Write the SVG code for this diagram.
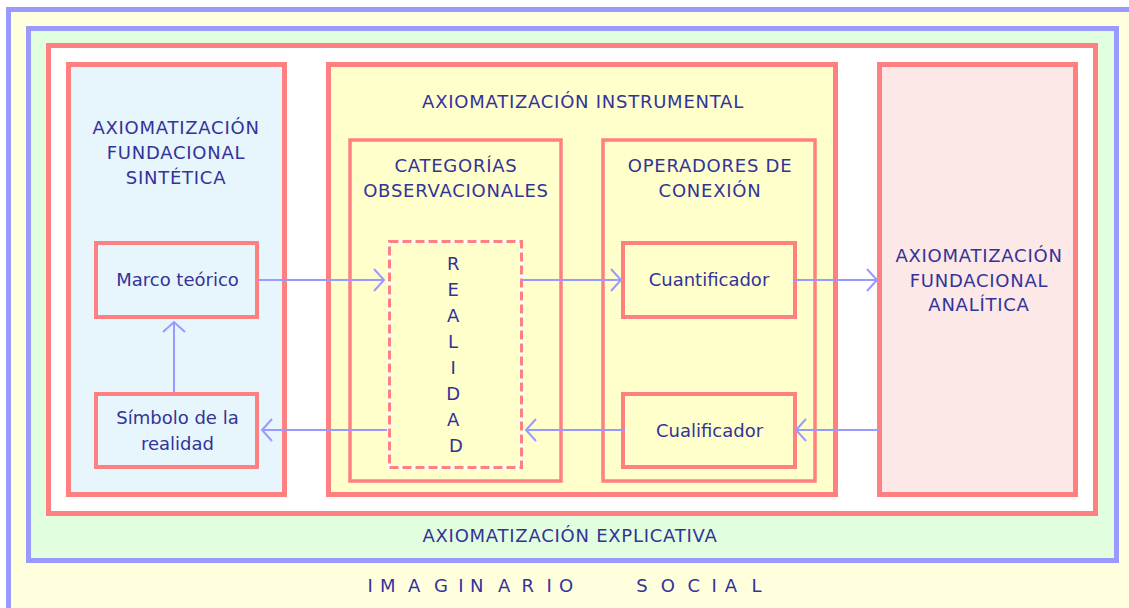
<svg xmlns="http://www.w3.org/2000/svg" width="1129" height="608" viewBox="0 0 1129 608">
<defs>
<style>
.t{font-family:"DejaVu Sans","Liberation Sans",sans-serif;font-size:18px;fill:#333399;text-anchor:middle}
.u{letter-spacing:0.75px}
.l{letter-spacing:0px}
.panel{stroke:#FF8080;stroke-width:5}
.box{stroke:#FF8080;stroke-width:3.5}
.node{stroke:#FF8080;stroke-width:4}
.conn{stroke:#9999FF;stroke-width:2;fill:none;marker-end:url(#chev)}
</style>
<marker id="chev" viewBox="-1 -1 12 24" refX="10" refY="11" markerWidth="12" markerHeight="24" markerUnits="userSpaceOnUse" orient="auto" overflow="visible">
<path d="M0,0 L10,11 L0,22" fill="none" stroke="#9999FF" stroke-width="2"/>
</marker>
</defs>
<rect x="0" y="0" width="1129" height="608" fill="#FFFFFF"/>
<g id="imaginario-social">
<rect x="8.5" y="9.5" width="1200" height="700" fill="#FFFFDD" stroke="#9999FF" stroke-width="5"/>
<text class="t" style="text-anchor:start" y="592" x="367.6 380 408 434.1 458.3 470 498 521.6 546.6 559.1 636.2 660.8 687.4 711.6 724.7 751.6">IMAGINARIOSOCIAL</text>
</g>
<g id="axiomatizacion-explicativa">
<rect x="28.5" y="28.5" width="1088" height="532" fill="#E1FFDF" stroke="#9999FF" stroke-width="5"/>
<rect x="48.5" y="45.5" width="1047" height="468" fill="#FFFFFF" stroke="#FF8080" stroke-width="5"/>
<text class="t u" x="570" y="542">AXIOMATIZACIÓN EXPLICATIVA</text>
</g>
<g id="fundacional-sintetica">
<rect class="panel" x="68.5" y="64.5" width="216" height="430" fill="#E7F5FD"/>
<text class="t u" x="176" y="134">AXIOMATIZACIÓN</text>
<text class="t u" x="176" y="159">FUNDACIONAL</text>
<text class="t u" x="176" y="184">SINTÉTICA</text>
</g>
<g id="instrumental">
<rect class="panel" x="328.5" y="64.5" width="507" height="430" fill="#FFFFCC"/>
<text class="t u" x="583" y="108">AXIOMATIZACIÓN INSTRUMENTAL</text>
</g>
<g id="categorias">
<rect class="box" x="350" y="140" width="211" height="341" fill="#FFFFCC"/>
<text class="t u" x="456" y="172">CATEGORÍAS</text>
<text class="t u" x="456" y="197">OBSERVACIONALES</text>
</g>
<g id="operadores">
<rect class="box" x="603" y="140" width="212" height="341" fill="#FFFFCC"/>
<text class="t u" x="710" y="172">OPERADORES DE</text>
<text class="t u" x="710" y="197">CONEXIÓN</text>
</g>
<g id="fundacional-analitica">
<rect class="panel" x="879.5" y="64.5" width="196" height="430" fill="#FCE8E6"/>
<text class="t u" x="979" y="261.5">AXIOMATIZACIÓN</text>
<text class="t u" x="979" y="286.5">FUNDACIONAL</text>
<text class="t u" x="979" y="311">ANALÍTICA</text>
</g>
<g id="marco-teorico">
<rect class="node" x="96" y="243" width="161" height="74" fill="#E7F5FD"/>
<text class="t l" x="177.5" y="286">Marco teórico</text>
</g>
<g id="simbolo">
<rect class="node" x="96" y="394" width="161" height="73" fill="#E7F5FD"/>
<text class="t l" x="177.5" y="424">Símbolo de la</text>
<text class="t l" x="177.5" y="450">realidad</text>
</g>
<g id="realidad">
<rect x="389.5" y="241.5" width="132" height="226" fill="#FFFFCC" stroke="#FFFFFF" stroke-width="3"/>
<rect x="389.5" y="241.5" width="132" height="226" fill="none" stroke="#FF8080" stroke-width="3" stroke-dasharray="9 4"/>
<text class="t">
<tspan x="456" y="270">R</tspan>
<tspan x="456" y="296">E</tspan>
<tspan x="456" y="322">A</tspan>
<tspan x="456" y="348">L</tspan>
<tspan x="456" y="374">I</tspan>
<tspan x="456" y="400">D</tspan>
<tspan x="456" y="426">A</tspan>
<tspan x="456" y="452">D</tspan>
</text>
</g>
<g id="cuantificador">
<rect class="node" x="623" y="243" width="172" height="74" fill="#FFFFCC"/>
<text class="t l" x="709" y="286">Cuantificador</text>
</g>
<g id="cualificador">
<rect class="node" x="623" y="394" width="172" height="73" fill="#FFFFCC"/>
<text class="t l" x="709.5" y="437">Cualificador</text>
</g>
<g id="connectors">
<path class="conn" d="M259,280 H384"/>
<path class="conn" d="M522,280 H621"/>
<path class="conn" d="M793,280 H877"/>
<path class="conn" d="M880,430 H796"/>
<path class="conn" d="M625,430 H526"/>
<path class="conn" d="M387,430 H262"/>
<path class="conn" d="M174,392 V322"/>
</g>
</svg>
